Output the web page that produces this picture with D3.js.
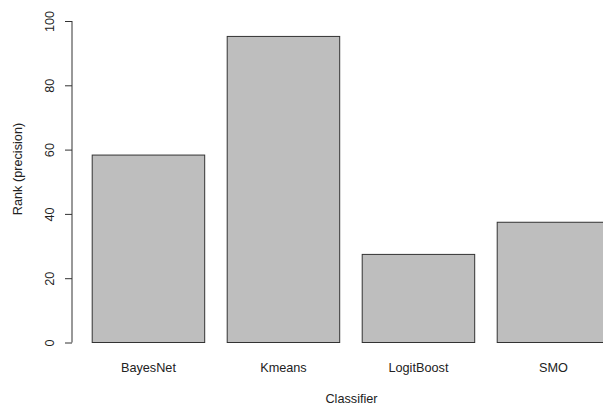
<!DOCTYPE html>
<html>
<head>
<meta charset="utf-8">
<script src="https://cdn.jsdelivr.net/npm/d3@7"></script>
<style>
  html, body { margin: 0; padding: 0; background: #fff; }
  svg { display: block; }
  text { font-family: "Liberation Sans", Arial, sans-serif; fill: #222; }
</style>
</head>
<body>
<script>
const categories = ["BayesNet", "Kmeans", "LogitBoost", "SMO"];
const values = [58.3, 95.2, 27.4, 37.4];
const yTicks = [0, 20, 40, 60, 80, 100];
const xTitle = "Classifier";
const yTitle = "Rank (precision)";

const W = 603, H = 406;
const svg = d3.select("body").append("svg").attr("width", W).attr("height", H);

const x = d3.scaleBand()
  .domain(categories)
  .range([71.5, 630.4])
  .paddingInner(1 / 6)
  .paddingOuter(0.1533);

const y = d3.scaleLinear().domain([0, 100]).range([342.5, 21]);

// bars
svg.append("g").selectAll("rect")
  .data(categories.map((c, i) => ({ c, v: values[i] })))
  .join("rect")
  .attr("x", d => x(d.c))
  .attr("y", d => y(d.v))
  .attr("width", x.bandwidth())
  .attr("height", d => y(0) - y(d.v))
  .attr("fill", "#bebebe")
  .attr("stroke", "#333")
  .attr("stroke-width", 1);

// y axis
const yAxis = d3.axisLeft(y).tickValues(yTicks).tickSize(7).tickPadding(3).tickFormat(d3.format("d"));
const gy = svg.append("g").attr("transform", "translate(72,0)").call(yAxis);
gy.select(".domain").attr("stroke", "#333").attr("d", `M0,${y(0)}V${y(100)}`);
gy.selectAll(".tick line").attr("stroke", "#333");
gy.selectAll(".tick text")
  .attr("x", null).attr("dy", null)
  .attr("transform", "translate(-18.5,0) rotate(-90)")
  .attr("text-anchor", "middle")
  .style("font-size", "12.7px")
  .style("font-family", "'Liberation Sans', Arial, sans-serif")
  .attr("fill", "#222");

// category labels
svg.append("g").selectAll("text")
  .data(categories)
  .join("text")
  .attr("x", d => x(d) + x.bandwidth() / 2)
  .attr("y", 371.5)
  .attr("text-anchor", "middle")
  .style("font-size", "12.7px")
  .text(d => d);

// axis titles
svg.append("text")
  .attr("x", 351.5).attr("y", 403)
  .attr("text-anchor", "middle")
  .style("font-size", "12.7px")
  .text(xTitle);

svg.append("text")
  .attr("transform", "translate(21.5,169) rotate(-90)")
  .attr("text-anchor", "middle")
  .style("font-size", "12.7px")
  .text(yTitle);
</script>
</body>
</html>
